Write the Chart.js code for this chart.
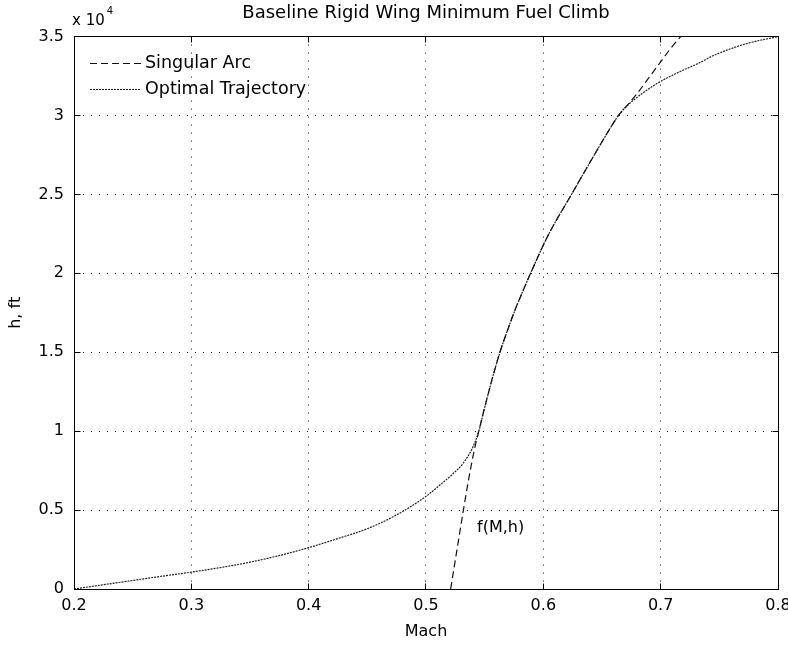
<!DOCTYPE html>
<html>
<head>
<meta charset="utf-8">
<title>Baseline Rigid Wing Minimum Fuel Climb</title>
<script src="https://cdn.jsdelivr.net/npm/chart.js@4/dist/chart.umd.min.js"></script>
<style>
    html, body { margin: 0; padding: 0; background: #fff; }
    #wrap { width: 788px; height: 646px; }
</style>
</head>
<body>
<div id="wrap"><canvas id="climb_chart" width="788" height="646"></canvas></div>
<script>
// values, altitude in ft
var singularMach = [0.521, 0.526, 0.531, 0.536, 0.541, 0.545, 0.549, 0.556, 0.563, 0.570, 0.576, 0.583, 0.590, 0.604, 0.624, 0.645, 0.657, 0.664, 0.671, 0.680, 0.690, 0.700, 0.708, 0.717];
var singularAlt = [0, 2300, 4600, 6800, 8750, 10000, 11200, 13200, 15000, 16500, 17700, 18950, 20150, 22400, 25000, 27700, 29200, 30000, 30600, 31400, 32400, 33400, 34200, 35000];

var optimalMach = [0.2, 0.225, 0.25, 0.275, 0.3, 0.325, 0.35, 0.375, 0.4, 0.425, 0.45, 0.475, 0.5, 0.512, 0.523, 0.532, 0.540, 0.545, 0.549, 0.556, 0.563, 0.570, 0.576, 0.583, 0.590, 0.604, 0.624, 0.645, 0.657, 0.664, 0.671, 0.679, 0.688, 0.6985, 0.717, 0.732, 0.745, 0.773, 0.8];
var optimalAlt = [0, 270, 540, 810, 1070, 1360, 1700, 2120, 2620, 3200, 3820, 4700, 5870, 6600, 7300, 8000, 9000, 10000, 11200, 13200, 15000, 16500, 17700, 18950, 20150, 22400, 25000, 27700, 29200, 30000, 30600, 31100, 31600, 32100, 32800, 33300, 33800, 34550, 35000];

var machTicks = [0.2, 0.3, 0.4, 0.5, 0.6, 0.7, 0.8];
var machTickLabels = ['0.2', '0.3', '0.4', '0.5', '0.6', '0.7', '0.8'];
var altTicks = [0, 5000, 10000, 15000, 20000, 25000, 30000, 35000];
var altTickLabels = ['0', '0.5', '1', '1.5', '2', '2.5', '3', '3.5'];

var noteMach = 0.5435;
var noteAlt = 3900;

var fontFamily = '"DejaVu Sans", "Liberation Sans", Arial, sans-serif';

function toPoints(xs, ys) {
    return xs.map(function(x, i) { return { x: x, y: ys[i] }; });
}

// box round the axes, inward ticks, exponent, legend and the f(M,h) note
var framePlugin = {
    id: 'frame',
    afterDatasetsDraw: function(chart) {
        var ctx = chart.ctx;
        var a = chart.chartArea;
        var xs = chart.scales.x;
        var ys = chart.scales.y;
        var L = Math.round(a.left - 0.5) + 0.5;
        var R = Math.round(a.right - 0.5) + 0.5;
        var T = Math.round(a.top - 0.5) + 0.5;
        var B = Math.round(a.bottom - 0.5) + 0.5;
        ctx.save();
        ctx.strokeStyle = '#000';
        ctx.lineWidth = 1;
        ctx.setLineDash([]);
        ctx.strokeRect(L, T, R - L, B - T);
        ctx.beginPath();
        machTicks.forEach(function(v) {
            var px = Math.round(xs.getPixelForValue(v) - 0.5) + 0.5;
            ctx.moveTo(px, B); ctx.lineTo(px, B - 6);
            ctx.moveTo(px, T); ctx.lineTo(px, T + 6);
        });
        altTicks.forEach(function(v) {
            var py = Math.round(ys.getPixelForValue(v) - 0.5) + 0.5;
            ctx.moveTo(L, py); ctx.lineTo(L + 6, py);
            ctx.moveTo(R, py); ctx.lineTo(R - 6, py);
        });
        ctx.stroke();

        ctx.fillStyle = '#000';
        ctx.textBaseline = 'alphabetic';
        ctx.textAlign = 'left';
        ctx.font = '15px ' + fontFamily;
        ctx.fillText('x 10', a.left - 2, a.top - 12);
        var w = ctx.measureText('x 10').width;
        ctx.font = '10px ' + fontFamily;
        ctx.fillText('4', a.left + w, a.top - 23);

        // legend, top left inside the axes
        ctx.font = '17.5px ' + fontFamily;
        ctx.textBaseline = 'middle';
        chart.data.datasets.forEach(function(ds, i) {
            var y = Math.round(a.top + 26 + i * 26) + 0.5;
            ctx.beginPath();
            ctx.strokeStyle = ds.borderColor;
            ctx.lineWidth = ds.borderWidth;
            ctx.setLineDash(ds.borderDash || []);
            ctx.moveTo(a.left + 16, y);
            ctx.lineTo(a.left + 67, y);
            ctx.stroke();
            ctx.fillText(ds.label, a.left + 71, y);
        });
        ctx.setLineDash([]);

        ctx.font = '16px ' + fontFamily;
        ctx.fillText('f(M,h)', xs.getPixelForValue(noteMach), ys.getPixelForValue(noteAlt));
        ctx.restore();
    }
};

var chart = new Chart(document.getElementById('climb_chart'), {
    type: 'line',
    data: {
        datasets: [{
            label: 'Singular Arc',
            data: toPoints(singularMach, singularAlt),
            borderColor: '#111',
            backgroundColor: '#111',
            borderWidth: 1.2,
            borderDash: [7, 4],
            pointRadius: 0,
            fill: false,
            cubicInterpolationMode: 'monotone'
        }, {
            label: 'Optimal Trajectory',
            data: toPoints(optimalMach, optimalAlt),
            borderColor: '#222',
            backgroundColor: '#222',
            borderWidth: 1.2,
            borderDash: [2, 1],
            pointRadius: 0,
            fill: false,
            cubicInterpolationMode: 'monotone'
        }]
    },
    options: {
        responsive: false,
        animation: false,
        layout: { padding: { left: 0, right: 10, top: 0, bottom: 0 } },
        plugins: {
            title: {
                display: true,
                text: 'Baseline Rigid Wing Minimum Fuel Climb',
                fullSize: false,
                color: '#000',
                font: { family: fontFamily, size: 18, weight: 'normal' },
                padding: { top: 3, bottom: 12 }
            },
            legend: { display: false },
            tooltip: { enabled: false }
        },
        scales: {
            x: {
                type: 'linear',
                min: 0.2,
                max: 0.8,
                afterBuildTicks: function(scale) {
                    scale.ticks = machTicks.map(function(v) { return { value: v }; });
                },
                afterFit: function(scale) {
                    scale.height = 57;
                    scale.paddingLeft = 0;
                    scale.paddingRight = 0;
                },
                grid: { color: '#111', lineWidth: 1, drawTicks: false },
                border: { display: true, color: '#000', dash: [1, 7] },
                ticks: {
                    padding: 7,
                    maxRotation: 0,
                    autoSkip: false,
                    color: '#000',
                    font: { family: fontFamily, size: 16 },
                    callback: function(value, index) { return machTickLabels[index]; }
                },
                title: {
                    display: true,
                    text: 'Mach',
                    color: '#000',
                    font: { family: fontFamily, size: 16 },
                    padding: { top: 0, bottom: 5 }
                }
            },
            y: {
                type: 'linear',
                min: 0,
                max: 35000,
                afterBuildTicks: function(scale) {
                    scale.ticks = altTicks.map(function(v) { return { value: v }; });
                },
                afterFit: function(scale) {
                    scale.width = 74;
                },
                grid: { color: '#111', lineWidth: 1, drawTicks: false },
                border: { display: true, color: '#000', dash: [1, 7] },
                ticks: {
                    padding: 10,
                    autoSkip: false,
                    color: '#000',
                    font: { family: fontFamily, size: 16 },
                    callback: function(value, index) { return altTickLabels[index]; }
                },
                title: {
                    display: true,
                    text: 'h, ft',
                    color: '#000',
                    font: { family: fontFamily, size: 16 },
                    padding: { top: 6, bottom: 0 }
                }
            }
        }
    },
    plugins: [framePlugin]
});
</script>
</body>
</html>
